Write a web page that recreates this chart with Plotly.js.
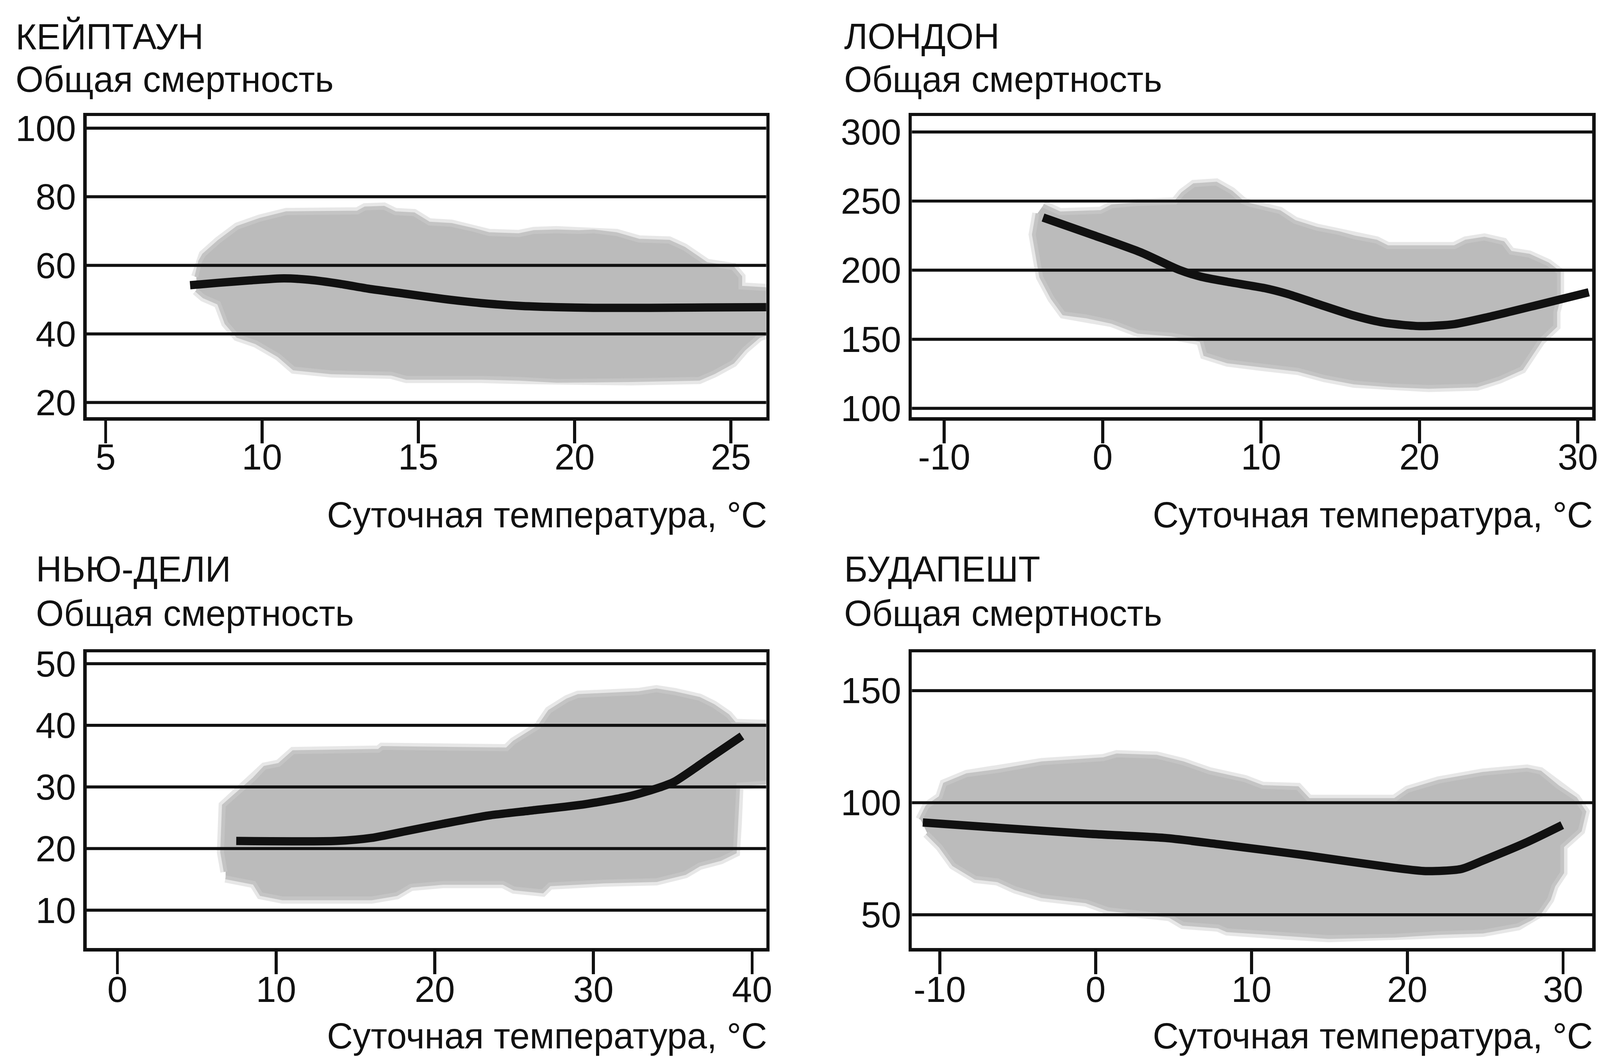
<!DOCTYPE html>
<html>
<head>
<meta charset="utf-8">
<script src="https://cdn.plot.ly/plotly-3.0.1.min.js"></script>
<style>html,body{margin:0;padding:0;background:#fff;overflow:hidden;}#chart{position:absolute;left:0;top:0;}</style>
</head>
<body>
<div id="chart"></div>
<script>
// ---------- data ----------
const cityNames = ['КЕЙПТАУН', 'ЛОНДОН', 'НЬЮ-ДЕЛИ', 'БУДАПЕШТ'];
const yLabel = 'Общая смертность';
const xLabel = 'Суточная температура, °C';

// Cape Town
const capeTemp = [7.7, 8.6, 9.6, 10.7, 11.5, 12.5, 13.4, 14.6, 15.8, 17.0, 18.2, 19.4, 20.6, 22.4, 24.2, 26.2];
const capeMort = [54.2, 54.9, 55.6, 56.2, 55.8, 54.6, 53.2, 51.7, 50.2, 49.0, 48.2, 47.8, 47.6, 47.6, 47.7, 47.8];
const capeBlobT = [7.90, 8.02, 8.14, 8.62, 9.22, 9.94, 10.78, 13.06, 13.30, 13.90, 14.26, 14.86, 15.34, 16.06, 16.78, 17.26, 18.22, 18.70, 19.42, 20.14, 20.62, 21.34, 22.06, 23.02, 23.50, 23.98, 24.22, 25.06, 25.30, 25.30, 25.90, 26.60, 26.60, 25.90, 25.42, 25.06, 24.46, 23.98, 21.82, 19.42, 18.22, 17.02, 14.62, 14.14, 12.22, 11.02, 10.54, 9.82, 9.22, 8.86, 8.62, 8.14, 7.90];
const capeBlobM = [56.6, 61.1, 63.0, 66.9, 71.0, 73.3, 75.2, 75.4, 76.6, 76.8, 75.2, 74.9, 72.2, 71.8, 70.3, 69.1, 68.8, 69.7, 69.9, 69.7, 69.9, 69.1, 67.2, 66.9, 64.9, 61.9, 60.4, 59.2, 56.6, 53.5, 53.1, 52.8, 41.3, 39.4, 35.6, 31.8, 28.8, 26.9, 26.5, 26.3, 26.9, 27.2, 27.2, 28.4, 28.8, 29.9, 33.7, 37.5, 39.4, 43.2, 49.0, 50.9, 52.8];
const capeXTicks = [5, 10, 15, 20, 25];
const capeYTicks = [20, 40, 60, 80, 100];

// London
const londonTemp = [-3.76, -0.58, 2.47, 4.82, 6.23, 7.88, 10.23, 11.64, 13.52, 15.87, 17.75, 20.11, 22.22, 24.34, 27.63, 30.69];
const londonMort = [238.1, 225.3, 212.6, 200.3, 195.2, 191.6, 187.0, 182.9, 175.8, 167.1, 162.0, 159.5, 161.0, 166.1, 175.3, 184.0];
const londonBlobT = [-3.76, -2.70, -0.11, 0.59, 2.24, 4.59, 5.06, 5.77, 7.17, 8.12, 8.82, 9.29, 11.17, 12.11, 13.52, 14.93, 15.87, 17.28, 17.99, 22.22, 22.93, 24.10, 25.28, 25.75, 26.92, 28.10, 28.80, 28.80, 28.57, 28.57, 27.63, 27.16, 26.45, 25.04, 23.63, 20.58, 18.22, 15.87, 13.99, 12.35, 10.00, 7.88, 6.47, 6.23, 4.35, 2.24, 0.59, -1.05, -2.46, -3.17, -3.88, -4.11, -4.34, -4.11];
const londonBlobM = [246.7, 241.1, 242.1, 246.2, 247.8, 248.8, 255.4, 261.5, 262.6, 256.4, 249.3, 247.2, 242.1, 235.0, 229.9, 226.8, 223.8, 220.7, 216.6, 216.6, 220.7, 222.8, 219.7, 212.6, 210.5, 204.4, 198.3, 179.9, 169.7, 159.5, 149.3, 141.1, 128.9, 121.7, 116.6, 115.6, 116.6, 118.7, 122.8, 127.9, 130.9, 134.0, 139.1, 149.3, 153.4, 155.4, 162.6, 166.6, 168.7, 179.9, 195.2, 210.5, 225.8, 241.1];
const londonXTicks = [-10, 0, 10, 20, 30];
const londonYTicks = [100, 150, 200, 250, 300];

// New Delhi
const delhiTemp = [7.49, 13.78, 16.02, 18.27, 20.51, 23.43, 26.12, 29.49, 32.40, 34.20, 35.10, 37.34, 39.36];
const delhiMort = [21.23, 21.23, 21.73, 22.87, 24.01, 25.38, 26.18, 27.20, 28.57, 29.94, 30.85, 34.73, 38.26];
const delhiBlobT = [6.82, 6.60, 6.71, 7.72, 8.62, 9.29, 10.19, 11.09, 16.47, 16.69, 24.55, 25.00, 26.57, 27.24, 28.36, 29.04, 32.85, 33.97, 35.10, 36.67, 37.56, 38.46, 38.91, 41.60, 41.60, 39.13, 39.02, 38.91, 38.01, 36.67, 35.77, 33.97, 30.61, 27.24, 26.79, 25.00, 24.32, 20.51, 18.49, 17.59, 16.02, 12.66, 10.41, 9.06, 8.62, 6.82];
const delhiBlobM = [16.25, 19.44, 26.97, 29.25, 31.30, 33.13, 33.58, 35.64, 35.86, 36.32, 36.09, 37.23, 39.74, 42.25, 44.07, 44.76, 45.21, 45.67, 45.21, 44.30, 43.16, 41.56, 40.20, 39.97, 30.85, 30.39, 24.01, 19.44, 18.30, 17.39, 16.02, 14.88, 14.65, 14.20, 13.06, 13.52, 14.43, 14.43, 13.97, 12.60, 11.92, 11.92, 11.92, 12.60, 14.43, 15.34];
const delhiXTicks = [0, 10, 20, 30, 40];
const delhiYTicks = [10, 20, 30, 40, 50];

// Budapest
const budaTemp = [-11.09, -6.28, -0.62, 4.47, 7.87, 13.53, 19.19, 21.17, 23.44, 24.85, 27.68, 29.94];
const budaMort = [91.19, 88.85, 86.2, 84.27, 81.5, 76.5, 70.94, 69.5, 70.4, 74.2, 82.4, 90.0];
const budaBlobT = [-11.23, -10.81, -9.96, -9.68, -8.26, -6.28, -3.45, 0.51, 1.36, 3.91, 5.61, 7.30, 9.57, 10.70, 12.96, 13.67, 19.19, 20.04, 22.02, 24.85, 27.68, 28.53, 29.66, 30.79, 31.36, 31.08, 29.94, 29.94, 29.38, 29.10, 28.53, 27.96, 27.11, 24.85, 22.02, 19.19, 14.95, 12.12, 10.70, 8.44, 7.87, 5.61, 4.76, 2.21, 0.80, -0.62, -2.04, -3.45, -5.15, -6.28, -7.70, -9.11, -9.96, -10.81];
const budaBlobM = [92.4, 98.2, 102.3, 108.2, 112.3, 114.1, 117.6, 119.4, 121.1, 120.5, 117.6, 113.5, 110.0, 107.0, 106.5, 101.2, 101.2, 105.3, 109.4, 112.9, 114.7, 113.5, 107.0, 101.8, 95.9, 87.7, 80.6, 68.9, 63.0, 57.1, 51.3, 48.4, 45.4, 42.5, 41.9, 40.7, 40.1, 41.3, 41.9, 43.1, 44.8, 46.0, 49.5, 51.3, 52.5, 56.0, 57.2, 58.3, 61.8, 65.4, 66.5, 72.4, 80.6, 86.5];
const budaXTicks = [-10, 0, 10, 20, 30];
const budaYTicks = [50, 100, 150];

// ---------- styling / layout ----------
const FONT = 'Liberation Sans, Arial, Helvetica, sans-serif';
const INK = '#111111';
const BLOB = '#bbbbbb';

// fit the 4240x2706 design into the actual viewport
const W = window.innerWidth || 4240;
const H = window.innerHeight || 2706;
const kx = W / 4240, ky = H / 2706;
const k = Math.min(kx, ky);
const s = v => v * k;      // sizes (fonts, widths)
const sy = v => v * ky;    // vertical distances
const sx = v => v * kx;    // horizontal distances
const el = document.getElementById('chart');
el.style.width = W + 'px';
el.style.height = H + 'px';

const panels = [
  {t: capeTemp, m: capeMort, bt: capeBlobT, bm: capeBlobM, xt: capeXTicks, yt: capeYTicks,
   xr: [4.39, 26.13], yr: [15.65, 103.5], xd: [0.05413, 0.47889], yd: [0.60514, 0.89006], lab: -44},
  {t: londonTemp, m: londonMort, bt: londonBlobT, bm: londonBlobM, xt: londonXTicks, yt: londonYTicks,
   xr: [-12.04, 30.91], yr: [93.5, 311.4], xd: [0.56993, 0.99517], yd: [0.60514, 0.89006], lab: -44},
  {t: delhiTemp, m: delhiMort, bt: delhiBlobT, bm: delhiBlobM, xt: delhiXTicks, yt: delhiYTicks,
   xr: [-1.94, 40.89], yr: [3.83, 51.81], xd: [0.05413, 0.47889], yd: [0.10292, 0.38267], lab: -40},
  {t: budaTemp, m: budaMort, bt: budaBlobT, bm: budaBlobM, xt: budaXTicks, yt: budaYTicks,
   xr: [-11.79, 31.87], yr: [35.1, 166.99], xd: [0.56993, 0.99517], yd: [0.10292, 0.38267], lab: -40}
];

const traces = [];
const layout = {
  width: W, height: H,
  margin: {l: 0, r: 0, t: 0, b: 0},
  paper_bgcolor: '#ffffff', plot_bgcolor: '#ffffff',
  showlegend: false,
  font: {family: FONT, color: INK, size: s(95)},
  shapes: [], annotations: []
};

panels.forEach((p, i) => {
  const n = i === 0 ? '' : String(i + 1);
  const xa = 'x' + n, ya = 'y' + n;
  // soft halo around the cloud
  traces.push({
    type: 'scatter', mode: 'lines', x: p.bt, y: p.bm, xaxis: xa, yaxis: ya,
    line: {color: 'rgba(187,187,187,0.35)', width: s(28)}, hoverinfo: 'skip'
  });
  traces.push({
    type: 'scatter', mode: 'lines', x: p.bt, y: p.bm, xaxis: xa, yaxis: ya,
    fill: 'toself', fillcolor: BLOB, line: {color: '#c4c4c4', width: s(10)},
    hoverinfo: 'skip'
  });
  traces.push({
    type: 'scatter', mode: 'lines', x: p.t, y: p.m, xaxis: xa, yaxis: ya,
    line: {color: INK, width: s(22), shape: 'spline', smoothing: 0.7},
    hoverinfo: 'skip'
  });
  layout['xaxis' + n] = {
    domain: p.xd, range: p.xr, anchor: ya,
    tickmode: 'array', tickvals: p.xt, ticktext: p.xt.map(v => String(v)),
    ticks: 'outside', ticklen: sy(58), tickwidth: s(8), tickcolor: INK,
    ticklabelstandoff: sy(p.lab),
    tickfont: {family: FONT, size: s(96), color: INK},
    showgrid: false, zeroline: false,
    showline: true, linecolor: INK, linewidth: s(9), mirror: true,
    fixedrange: true
  };
  layout['yaxis' + n] = {
    domain: p.yd, range: p.yr, anchor: xa,
    tickmode: 'array', tickvals: p.yt, ticktext: p.yt.map(v => String(v)),
    ticks: '', ticklabelstandoff: sx(18),
    tickfont: {family: FONT, size: s(96), color: INK},
    showgrid: false, zeroline: false,
    showline: true, linecolor: INK, linewidth: s(9), mirror: true,
    fixedrange: true
  };
  // horizontal grid lines drawn above the shaded cloud
  p.yt.forEach(v => {
    layout.shapes.push({
      type: 'line', xref: xa + ' domain', yref: ya, x0: 0, x1: 1, y0: v, y1: v,
      line: {color: INK, width: s(8)}, layer: 'above'
    });
  });
});

// text labels
const titleLeft = [0.0092, 0.5271, 0.0220, 0.5271];
const titleY = [0.9655, 0.9655, 0.4614, 0.4614];
const subY = [0.9250, 0.9250, 0.4198, 0.4198];
const xTitleRight = [0.4800, 0.9962, 0.4800, 0.9962];
const xTitleY = [0.5128, 0.5128, 0.0200, 0.0200];

cityNames.forEach((name, i) => {
  layout.annotations.push({
    xref: 'paper', yref: 'paper', x: titleLeft[i], y: titleY[i],
    xanchor: 'left', yanchor: 'middle', showarrow: false, text: name,
    font: {family: FONT, size: s(95), color: INK}
  });
  layout.annotations.push({
    xref: 'paper', yref: 'paper', x: titleLeft[i], y: subY[i],
    xanchor: 'left', yanchor: 'middle', showarrow: false, text: yLabel,
    font: {family: FONT, size: s(95), color: INK}
  });
  layout.annotations.push({
    xref: 'paper', yref: 'paper', x: xTitleRight[i], y: xTitleY[i],
    xanchor: 'right', yanchor: 'middle', showarrow: false, text: xLabel,
    font: {family: FONT, size: s(95), color: INK}
  });
});

Plotly.newPlot('chart', traces, layout, {staticPlot: true, displayModeBar: false});
</script>
</body>
</html>
